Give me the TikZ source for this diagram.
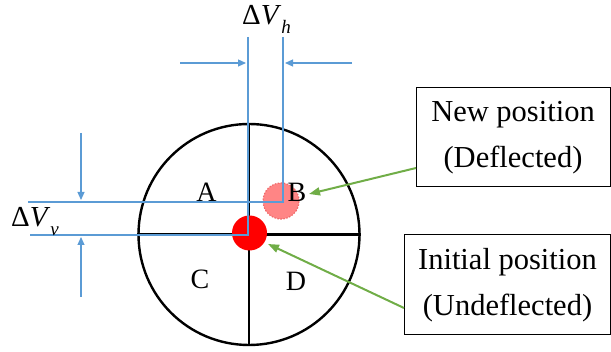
\documentclass[tikz,border=0pt]{standalone}
\usepackage{fontspec}
\setmainfont{Liberation Serif}
\usetikzlibrary{arrows.meta}
\definecolor{dimblue}{HTML}{5B9BD5}
\definecolor{pgreen}{HTML}{70AD47}
\definecolor{pinkfill}{HTML}{FF8585}
\definecolor{pinkedge}{HTML}{F06A6A}
\newcommand{\dvsym}[1]{\textup{Δ}\textit{V}\raisebox{-0.28em}{\fontsize{19}{20}\selectfont\textit{#1}}}
\tikzset{
  dimline/.style={draw=dimblue, line width=1.2pt},
  dimarrow/.style={dimblue, line width=1.2pt, -{Triangle[length=8pt,width=7pt]}},
  greenarrow/.style={pgreen, line width=2pt, -{Triangle[length=11pt,width=8pt]}},
  quad/.style={font=\fontsize{28}{30}\selectfont, inner sep=0pt, anchor=base},
  dvlabel/.style={font=\fontsize{29}{30}\selectfont, inner sep=0pt, anchor=base west},
  infobox/.style={draw, line width=1pt, align=center, inner sep=0pt,
    font=\fontsize{30.5}{46}\selectfont},
}
\begin{document}
\begin{tikzpicture}[x=1pt,y=-1pt]
\useasboundingbox (0,0) rectangle (611,352);
% detector disk
\node[circle, draw, line width=2.4pt, minimum size=221pt, inner sep=0pt] (disk) at (249,234.5) {};
\draw[line width=2.4pt] (disk.north) -- (disk.south);
\draw[line width=2.4pt] (disk.west) -- (disk.east);
% spots
\node[circle, fill=red, minimum size=35pt, inner sep=0pt] (init) at (249.5,233) {};
\node[circle, fill=pinkfill, draw=pinkedge, dash pattern=on 1.5pt off 1.5pt, line width=1.2pt,
      minimum size=36pt, inner sep=0pt] (newpos) at (281,201) {};
% dimension lines
\coordinate (vh1t) at (248,37);
\coordinate (vh1b) at (248,235);
\coordinate (vh2t) at (283,37);
\coordinate (vh2b) at (283,202);
\coordinate (vv1l) at (28,202);
\coordinate (vv2l) at (30,235);
\draw[dimline] (vh1t) -- (vh1b) -- (vv2l);
\draw[dimline] (vh2t) -- (vh2b) -- (vv1l);
\coordinate (ha1) at (180,63);
\coordinate (ha1e) at (246,63);
\coordinate (ha2) at (352,63);
\coordinate (ha2e) at (285,63);
\draw[dimarrow] (ha1) -- (ha1e);
\draw[dimarrow] (ha2) -- (ha2e);
\coordinate (va1) at (81,133);
\coordinate (va1e) at (81,200);
\coordinate (va2) at (81,297);
\coordinate (va2e) at (81,237);
\draw[dimarrow] (va1) -- (va1e);
\draw[dimarrow] (va2) -- (va2e);
\node[dvlabel] (dvh) at (242,25) {\dvsym{h}};
\node[dvlabel] (dvv) at (11,227) {\dvsym{v}};
% quadrant letters
\node[quad] (qa) at (206.5,202) {A};
\node[quad] (qb) at (297,202) {B};
\node[quad] (qc) at (200,289) {C};
\node[quad] (qd) at (296,291) {D};
% boxes
\node[infobox, minimum width=194pt, minimum height=99pt] (newbox) at (513,137.5) {New position\\(Deflected)};
\node[infobox, minimum width=206pt, minimum height=100pt] (initbox) at (507.5,285) {Initial position\\(Undeflected)};
\coordinate (g1s) at (416,168);
\coordinate (g1e) at (309,194);
\coordinate (g2s) at (404,308);
\coordinate (g2e) at (268,244);
\draw[greenarrow] (g1s) -- (g1e);
\draw[greenarrow] (g2s) -- (g2e);
\end{tikzpicture}
\end{document}
